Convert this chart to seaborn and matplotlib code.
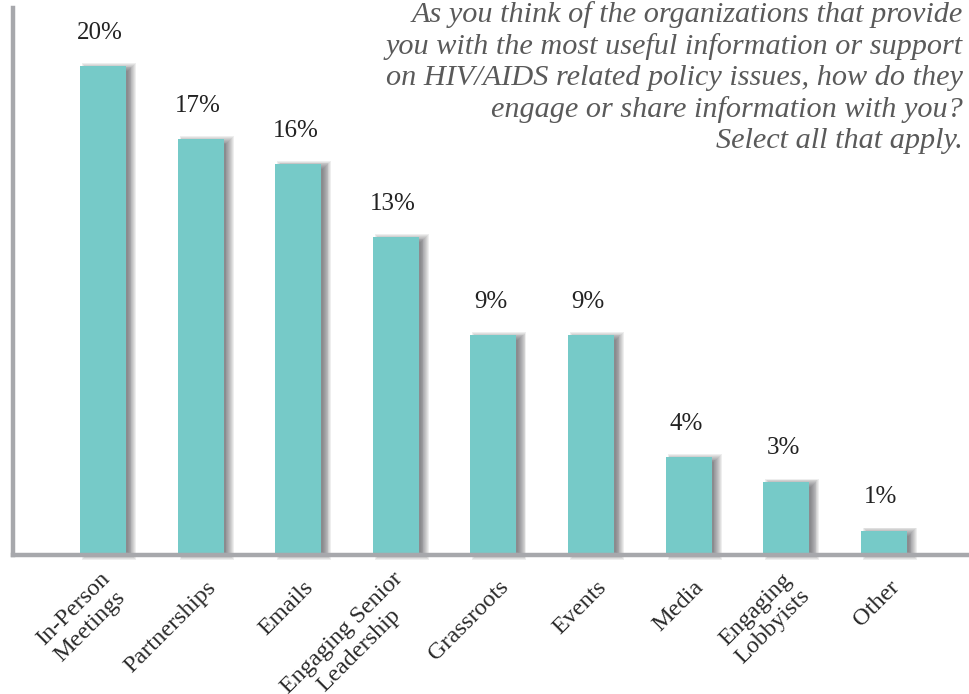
import numpy as np
import pandas as pd
import seaborn as sns
import matplotlib.pyplot as plt
from matplotlib.patches import Rectangle
from matplotlib import transforms

categories = ["In-Person\nMeetings", "Partnerships", "Emails",
              "Engaging Senior\nLeadership", "Grassroots", "Events",
              "Media", "Engaging\nLobbyists", "Other"]
shares = [20, 17, 16, 13, 9, 9, 4, 3, 1]
value_labels = ["20%", "17%", "16%", "13%", "9%", "9%", "4%", "3%", "1%"]
question = ("As you think of the organizations that provide\n"
            "you with the most useful information or support\n"
            "on HIV/AIDS related policy issues, how do they\n"
            "engage or share information with you?\n"
            "Select all that apply.")

BAR = "#76CAC8"
AXIS = "#A7A8AC"

sns.set_theme(style="white")
plt.rcParams["font.family"] = ["Liberation Serif", "DejaVu Serif"]

df = pd.DataFrame({"category": categories, "share": shares})

fig = plt.figure(figsize=(9.69, 6.94), dpi=100)
ax = fig.add_axes([13 / 969, 139 / 694, 956 / 969, 547 / 694])

sns.barplot(data=df, x="category", y="share", color=BAR, width=0.47,
            saturation=1, linewidth=0, ax=ax, zorder=2)

ax.set_xlim(-0.922, 8.873)
ax.set_ylim(0, 22.37)

# pixel -> data unit factors for the soft shadows
bbox = ax.get_window_extent()
px_x = (ax.get_xlim()[1] - ax.get_xlim()[0]) / bbox.width
px_y = (ax.get_ylim()[1] - ax.get_ylim()[0]) / bbox.height

bars = list(ax.patches)
# soft drop shadow: stacked translucent rectangles, offset to the right
grow = np.linspace(-4, 4, 10)
dx, dy = 6, -1
for p in bars:
    x0, y0 = p.get_xy()
    w, h = p.get_width(), p.get_height()
    for g in grow:
        sh = Rectangle((x0 + (dx - g) * px_x, y0 + (dy - g) * px_y),
                       w + 2 * g * px_x, h + 2 * g * px_y,
                       facecolor="#48484c", edgecolor="none", alpha=0.09,
                       zorder=1)
        sh.set_clip_on(False)
        ax.add_patch(sh)

for p, lab in zip(bars, value_labels):
    ax.annotate(lab, (p.get_x() + p.get_width() / 2, p.get_height()),
                xytext=(-2, 16), textcoords="offset points",
                ha="center", va="bottom", fontsize=18, color="#222222")

ax.set_xlabel("")
ax.set_ylabel("")
ax.set_yticks([])
ax.tick_params(axis="x", length=0, pad=21)
ax.set_xticks(range(len(categories)))
ax.set_xticklabels(categories, rotation=45, ha="right", va="center",
                   rotation_mode="anchor", fontsize=17.5, color="#2a2a2a",
                   multialignment="center", linespacing=1.2)
shift = transforms.ScaledTranslation(12 / 100, 0, fig.dpi_scale_trans)
for t in ax.get_xticklabels():
    t.set_transform(t.get_transform() + shift)

for s in ["top", "right"]:
    ax.spines[s].set_visible(False)
for s in ["left", "bottom"]:
    ax.spines[s].set_color(AXIS)
    ax.spines[s].set_linewidth(3.2)
    ax.spines[s].set_zorder(3)

fig.text(963 / 969, 1 - 1 / 694, question, ha="right", va="top",
         fontsize=21.8, style="italic", color="#5a5a5a", linespacing=1.24)

fig.savefig("out.png", dpi=100, facecolor="white")
